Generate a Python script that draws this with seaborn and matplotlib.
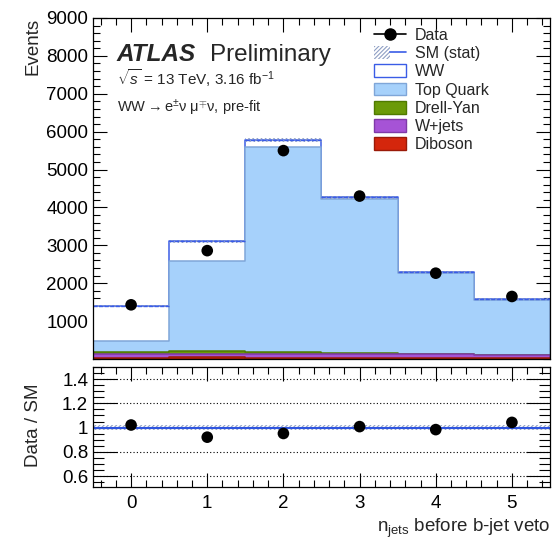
import numpy as np
import pandas as pd
import matplotlib
matplotlib.use("Agg")
import matplotlib.pyplot as plt
from matplotlib.patches import Patch, Rectangle
from matplotlib.lines import Line2D
from matplotlib.ticker import MultipleLocator
from matplotlib.legend_handler import HandlerTuple
import seaborn as sns

# ---------------- data ----------------
njets = [0, 1, 2, 3, 4, 5]
processes = ["WW", "Top Quark", "Drell-Yan", "W+jets", "Diboson"]
ww = [930, 510, 180, 55, 25, 18]
top_quark = [290, 2380, 5410, 4060, 2150, 1460]
drell_yan = [55, 80, 60, 20, 8, 4]
w_jets = [90, 95, 100, 105, 100, 85]
diboson = [35, 40, 30, 25, 20, 15]
sm_stat = [25, 35, 45, 40, 30, 25]
data = [1430, 2860, 5500, 4300, 2265, 1650]

fill_colors = {"WW": "#ffffff", "Top Quark": "#a6d1fb", "Drell-Yan": "#6b9a08",
               "W+jets": "#a653d6", "Diboson": "#d4260c"}
edge_colors = {"WW": "#3a5ce6", "Top Quark": "#7fa6d8", "Drell-Yan": "#4f7a00",
               "W+jets": "#7f3aa8", "Diboson": "#9a1a08"}

# ---------------- style ----------------
sns.set_theme(style="ticks")
plt.rcParams["font.family"] = ["Liberation Sans", "DejaVu Sans"]
plt.rcParams["hatch.linewidth"] = 0.8
plt.rcParams["mathtext.fontset"] = "custom"
plt.rcParams["mathtext.rm"] = "Liberation Sans"
plt.rcParams["mathtext.it"] = "Liberation Sans:italic"

fig = plt.figure(figsize=(5.53, 5.43), dpi=100)
W, H = 553.0, 543.0
ax = fig.add_axes([93 / W, 1 - 359 / H, 457 / W, 341 / H])
rax = fig.add_axes([93 / W, 1 - 487 / H, 457 / W, 120 / H])

# long-form table
comp = {"WW": ww, "Top Quark": top_quark, "Drell-Yan": drell_yan,
        "W+jets": w_jets, "Diboson": diboson}
rows = []
for p in processes:
    for x, v in zip(njets, comp[p]):
        rows.append({"njets": x, "process": p, "events": v})
df = pd.DataFrame(rows)

# cumulative stacks, drawn ROOT-style from the total downward
order_bottom_up = processes[::-1]
cum = np.zeros(len(njets))
cum_by_proc = {}
for p in order_bottom_up:
    cum = cum + df[df.process == p]["events"].to_numpy()
    cum_by_proc[p] = cum.copy()
total = cum_by_proc["WW"]

for p in processes:
    sub = pd.DataFrame({"njets": njets, "w": cum_by_proc[p]})
    sns.histplot(data=sub, x="njets", weights="w", discrete=True, element="step",
                 fill=True, alpha=1, color=fill_colors[p], edgecolor=edge_colors[p],
                 linewidth=1.1, ax=ax)

# stat band
x_arr = np.array(njets, dtype=float)
stat = np.array(sm_stat, dtype=float)
for xi, t, s in zip(x_arr, total, stat):
    ax.add_patch(Rectangle((xi - 0.5, t - s), 1.0, 2 * s, fill=False, hatch="////////",
                           edgecolor="#8f9fc4", linewidth=0))
ax.hlines(total, x_arr - 0.5, x_arr + 0.5, colors="#3a5ce6", linewidth=1.0,
          linestyles=(0, (3, 1)))

# data points
dat = np.array(data, dtype=float)
ax.errorbar(x_arr, dat, yerr=np.sqrt(dat), fmt="none", ecolor="black", elinewidth=1)
sns.scatterplot(x=x_arr, y=dat, color="black", s=70, edgecolor="none", ax=ax, zorder=5)

ax.set_xlim(-0.5, 5.5)
ax.set_ylim(0, 9000)
ax.set_xlabel("")
ax.set_ylabel("")
ax.set_xticklabels([])
ax.xaxis.set_major_locator(MultipleLocator(1))
ax.xaxis.set_minor_locator(MultipleLocator(0.2))
ax.yaxis.set_major_locator(MultipleLocator(1000))
ax.yaxis.set_minor_locator(MultipleLocator(200))
ax.set_yticks([1000, 2000, 3000, 4000, 5000, 6000, 7000, 8000, 9000])
for a in (ax, rax):
    a.tick_params(which="both", direction="in", top=True, right=True, colors="black",
                  labelsize=13.5, width=0.8)
    for s in a.spines.values():
        s.set_linewidth(0.9)
        s.set_color("black")
ax.tick_params(which="major", length=10)
ax.tick_params(which="minor", length=5)
ax.tick_params(axis="x", which="major", length=10)

fig.text(33 / W, 1 - 18 / H, "Events", rotation=90, ha="center", va="top", fontsize=13.5)

# texts
fig.text(117 / W, 1 - 61 / H, "ATLAS", fontsize=17.5, fontweight="bold", style="italic")
fig.text(210 / W, 1 - 61 / H, "Preliminary", fontsize=17.5)
fig.text(117 / W, 1 - 85 / H, r"$\sqrt{s}$ = 13 TeV, 3.16 fb$^{-1}$", fontsize=11)
fig.text(117 / W, 1 - 112 / H, "WW${\\rightarrow}$e$^{\\pm}$\u03bd \u03bc$^{\\mp}$\u03bd, pre-fit",
         fontsize=10.5)

# legend
handles = [Line2D([], [], color="black", marker="o", markersize=8, linewidth=1.2),
           (Patch(facecolor="none", edgecolor="#8f9fc4", hatch="////////", linewidth=0),
            Line2D([], [], color="#3a5ce6", linewidth=1.2)),
           ]
labels = ["Data", "SM (stat)"]
for p in processes:
    handles.append(Patch(facecolor=fill_colors[p], edgecolor=edge_colors[p], linewidth=1.0))
    labels.append(p)
leg = fig.legend(handles, labels, loc="upper left", bbox_to_anchor=(374 / W, 1 - 28 / H),
                 frameon=False, fontsize=11.5, handlelength=2.0, handleheight=0.85,
                 labelspacing=0.2, handletextpad=0.55, borderaxespad=0, borderpad=0,
                 handler_map={tuple: HandlerTuple(ndivide=None, pad=0)})

# ---------------- ratio ----------------
ratio = dat / total
rstat = stat / total
rax.add_patch(Rectangle((-0.5, 1 - rstat.max()), 6, 2 * rstat.max(), fill=False,
                        hatch="////////", edgecolor="#8f9fc4", linewidth=0))
rax.axhline(1.0, color="#2f55e0", linewidth=1.5)
for yv in [0.6, 0.8, 1.2, 1.4]:
    rax.axhline(yv, color="black", linewidth=0.8, linestyle=(0, (1, 2)))
rax.errorbar(x_arr, ratio, yerr=np.sqrt(dat) / total, fmt="none", ecolor="black", elinewidth=1)
sns.scatterplot(x=x_arr, y=ratio, color="black", s=70, edgecolor="none", ax=rax, zorder=5)
rax.set_xlim(-0.5, 5.5)
rax.set_ylim(0.51, 1.5)
rax.set_yticks([0.6, 0.8, 1.0, 1.2, 1.4])
rax.set_yticklabels(["0.6", "0.8", "1", "1.2", "1.4"])
rax.yaxis.set_minor_locator(MultipleLocator(0.05))
rax.xaxis.set_major_locator(MultipleLocator(1))
rax.xaxis.set_minor_locator(MultipleLocator(0.2))
rax.tick_params(axis="y", which="major", length=17)
rax.tick_params(axis="y", which="minor", length=8)
rax.tick_params(axis="x", which="major", length=10, pad=6)
rax.tick_params(axis="x", which="minor", length=5)
rax.set_ylabel("")
fig.text(33 / W, 1 - 425 / H, "Data / SM", rotation=90, ha="center", va="center", fontsize=13.5)
fig.text(550 / W, 1 - 532 / H, r"n$_{\mathrm{jets}}$ before b-jet veto", ha="right",
         va="baseline", fontsize=13.5)

fig.savefig("out.png", dpi=100)
